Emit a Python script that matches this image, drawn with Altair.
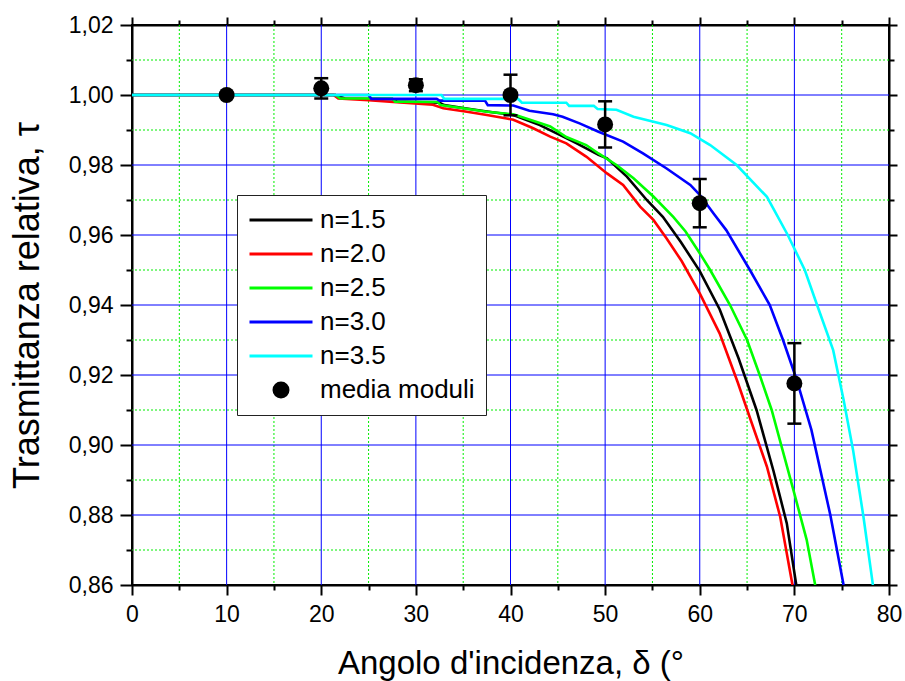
import altair as alt
import pandas as pd

# ---- theoretical curves: relative transmittance vs incidence angle ----
ang_15 = [0, 21.5, 22.5, 27.5, 28, 32.5, 33, 35, 37.5, 40.3, 43.1, 45.2, 47, 49.3, 50.2,
          52.3, 54.4, 56.1, 58, 60, 62.1, 64.1, 66, 67.8, 69.2, 70.2]
tau_15 = [1.000, 1.000, 0.9990, 0.9988, 0.9981, 0.9978, 0.9971, 0.9963, 0.9953, 0.9943, 0.9914,
          0.9886, 0.9862, 0.9829, 0.9819, 0.9767, 0.9700, 0.9652, 0.9580, 0.9497, 0.9388,
          0.9248, 0.9100, 0.8925, 0.8776, 0.8600]

ang_20 = [0, 21.3, 21.8, 25, 27.6, 31.8, 32.9, 35.4, 37.5, 39.6, 40.3, 42.4, 44.2, 45.9, 48,
          50.2, 51.9, 53.7, 55.1, 56.5, 58.1, 60, 62.1, 64, 65.4, 67.1, 68.5, 69.8]
tau_20 = [1.000, 1.000, 0.9990, 0.9985, 0.9980, 0.9972, 0.9962, 0.9952, 0.9943, 0.9933, 0.9929,
          0.9905, 0.9881, 0.9862, 0.9824, 0.9776, 0.9743, 0.9681, 0.9643, 0.9590, 0.9525,
          0.9433, 0.9319, 0.9180, 0.9070, 0.8938, 0.8795, 0.8600]

ang_25 = [0, 21.5, 22, 27.5, 27.8, 32.3, 32.6, 35, 37.5, 40.3, 43.1, 44.2, 45.9, 48, 49.3, 51.2,
          53, 55.1, 57.2, 58.5, 60, 61.1, 63.2, 65, 66.4, 67.6, 69.9, 71.3, 72.2]
tau_25 = [1.000, 1.000, 0.9990, 0.9990, 0.9981, 0.9980, 0.9971, 0.9962, 0.9952, 0.9945, 0.9920,
          0.9910, 0.9880, 0.9857, 0.9833, 0.9800, 0.9762, 0.9710, 0.9652, 0.9610, 0.9548,
          0.9500, 0.9400, 0.9300, 0.9195, 0.9100, 0.8871, 0.8729, 0.8600]

ang_30 = [0, 25, 25.3, 32.2, 32.5, 37.3, 37.6, 40.3, 42, 44.5, 45.5, 47.3, 49.3, 51.9, 54, 56.5,
          59, 60, 61.5, 62.8, 65.3, 67.4, 68.8, 70.2, 71.8, 73.8, 75.2]
tau_30 = [1.000, 1.000, 0.9989, 0.9989, 0.9984, 0.9984, 0.9971, 0.9970, 0.9955, 0.9945, 0.9938,
          0.9919, 0.9895, 0.9867, 0.9833, 0.9790, 0.9743, 0.9715, 0.9660, 0.9614, 0.9500,
          0.9400, 0.9300, 0.9190, 0.9043, 0.8800, 0.8600]

ang_35 = [0, 32.7, 33, 40.8, 41.2, 45.9, 46.2, 48.8, 49.2, 51.2, 53, 56.5, 59, 61.1, 63.9, 67.1,
          69.3, 71.1, 72.4, 74.1, 75.2, 76.2, 77.3, 78.3]
tau_35 = [1.000, 1.000, 0.9989, 0.9989, 0.9978, 0.9978, 0.9969, 0.9969, 0.9960, 0.9958, 0.9938,
          0.9914, 0.9891, 0.9857, 0.9800, 0.9709, 0.9600, 0.9500, 0.9400, 0.9271, 0.9129,
          0.8986, 0.8795, 0.8600]

# ---- measured module averages with error bars ----
meas_ang = [10, 20, 30, 40, 50, 60, 70]
meas_tau = [1.0000, 1.0019, 1.0028, 1.0000, 0.9916, 0.9691, 0.9176]
meas_err = [0.0000, 0.0029, 0.0017, 0.0058, 0.0066, 0.0069, 0.0115]

# ---- legend / series styling ----
series_names = ["n=1.5", "n=2.0", "n=2.5", "n=3.0", "n=3.5", "media moduli"]
series_colors = ["#000000", "#ff0000", "#00ff00", "#0000ff", "#00ffff", "#000000"]
LINE_PATH = "M-1,0L1,0"
DOT_PATH = "M-0.222,0A0.222,0.222,0,1,0,0.222,0A0.222,0.222,0,1,0,-0.222,0Z"
series_shapes = [LINE_PATH] * 5 + [DOT_PATH]

# ---- axis ticks and grid positions ----
x_ticks = [0, 5, 10, 15, 20, 25, 30, 35, 40, 45, 50, 55, 60, 65, 70, 75, 80]
y_ticks = [0.86, 0.87, 0.88, 0.89, 0.90, 0.91, 0.92, 0.93, 0.94, 0.95, 0.96, 0.97, 0.98,
           0.99, 1.00, 1.01, 1.02]
x_major_grid = [10, 20, 30, 40, 50, 60, 70]
x_minor_grid = [5, 15, 25, 35, 45, 55, 65, 75]
y_major_grid = [0.88, 0.90, 0.92, 0.94, 0.96, 0.98, 1.00]
y_minor_grid = [0.87, 0.89, 0.91, 0.93, 0.95, 0.97, 0.99, 1.01]

FONT = "Liberation Sans"

curves = pd.concat([
    pd.DataFrame({"ang": a, "tau": t, "series": s, "order": i})
    for i, (a, t, s) in enumerate([
        (ang_15, tau_15, "n=1.5"), (ang_20, tau_20, "n=2.0"), (ang_25, tau_25, "n=2.5"),
        (ang_30, tau_30, "n=3.0"), (ang_35, tau_35, "n=3.5")])
], ignore_index=True)

meas = pd.DataFrame({"ang": meas_ang, "tau": meas_tau, "err": meas_err})
meas["lo"] = meas["tau"] - meas["err"]
meas["hi"] = meas["tau"] + meas["err"]

xs = alt.Scale(domain=[0, 80], nice=False, zero=False)
ys = alt.Scale(domain=[0.86, 1.02], nice=False, zero=False)

x_major_test = "datum.value % 10 == 0"
y_major_test = "round(datum.value * 100) % 2 == 0"

common_axis = dict(
    domainColor="black", domainWidth=2, tickColor="black", tickWidth=2,
    grid=False, labelFont=FONT, labelFontSize=23, labelColor="black",
    titleFont=FONT, titleColor="black", titleFontWeight="normal",
)

x_axis_bottom = alt.Axis(
    values=x_ticks, orient="bottom", format="d",
    tickSize={"condition": {"test": x_major_test, "value": 10}, "value": 5},
    labelExpr="datum.value % 10 == 0 ? datum.label : ''",
    labelPadding=8, labelFlush=False,
    title="Angolo d'incidenza, δ (°", titleFontSize=33,
    titleBaseline="alphabetic", titleY=88,
    **common_axis,
)
y_axis_left = alt.Axis(
    values=y_ticks, orient="left",
    tickSize={"condition": {"test": y_major_test, "value": 12}, "value": 6},
    labelExpr=y_major_test + " ? replace(format(datum.value, '.2f'), '.', ',') : ''",
    labelPadding=7, labelFlush=False,
    title="Trasmittanza relativa, τ", titleFontSize=36,
    titleBaseline="alphabetic", titleX=-94, titleAngle=-90,
    **common_axis,
)
x_axis_top = alt.Axis(
    values=x_ticks, orient="top", labels=False, title=None,
    tickSize={"condition": {"test": x_major_test, "value": 8}, "value": 5},
    **common_axis,
)
y_axis_right = alt.Axis(
    values=y_ticks, orient="right", labels=False, title=None,
    tickSize={"condition": {"test": y_major_test, "value": 8}, "value": 5},
    **common_axis,
)

# grid lines
vgrid_minor = alt.Chart(pd.DataFrame({"ang": x_minor_grid})).mark_rule(
    color="#00ee00", strokeWidth=1, strokeDash=[2, 2]
).encode(x=alt.X("ang:Q", scale=xs, axis=x_axis_bottom))
hgrid_minor = alt.Chart(pd.DataFrame({"tau": y_minor_grid})).mark_rule(
    color="#00ee00", strokeWidth=1, strokeDash=[2, 2]
).encode(y=alt.Y("tau:Q", scale=ys, axis=y_axis_left))
vgrid_major = alt.Chart(pd.DataFrame({"ang": x_major_grid})).mark_rule(
    color="#0000ff", strokeWidth=1
).encode(x=alt.X("ang:Q", scale=xs, axis=None))
hgrid_major = alt.Chart(pd.DataFrame({"tau": y_major_grid})).mark_rule(
    color="#0000ff", strokeWidth=1
).encode(y=alt.Y("tau:Q", scale=ys, axis=None))

lines = alt.Chart(curves).mark_line(strokeWidth=2.6, clip=True).encode(
    x=alt.X("ang:Q", scale=xs, axis=None),
    y=alt.Y("tau:Q", scale=ys, axis=None),
    color=alt.Color("series:N", scale=alt.Scale(domain=series_names[:5], range=series_colors[:5]),
                    legend=None),
    detail="series:N",
    order="order:Q",
)

bars = alt.Chart(meas).mark_rule(color="black", strokeWidth=2.5).encode(
    x=alt.X("ang:Q", scale=xs, axis=None),
    y=alt.Y("lo:Q", scale=ys, axis=None),
    y2="hi:Q",
)
caps_lo = alt.Chart(meas).mark_tick(color="black", orient="horizontal", size=14, thickness=2.5,
                                    opacity=1).encode(
    x=alt.X("ang:Q", scale=xs, axis=None),
    y=alt.Y("lo:Q", scale=ys, axis=None),
)
caps_hi = alt.Chart(meas).mark_tick(color="black", orient="horizontal", size=14, thickness=2.5,
                                    opacity=1).encode(
    x=alt.X("ang:Q", scale=xs, axis=None),
    y=alt.Y("hi:Q", scale=ys, axis=None),
)
points = alt.Chart(meas).mark_point(filled=True, shape="circle", size=256, color="black", opacity=1).encode(
    x=alt.X("ang:Q", scale=xs, axis=x_axis_top),
    y=alt.Y("tau:Q", scale=ys, axis=y_axis_right),
)

# legend carrier: one invisible symbol per series, legend symbols drawn fully opaque
leg = alt.Legend(
    orient="none", legendX=105, legendY=170, title=None,
    clipHeight=28, rowPadding=6, padding=11, labelOffset=6,
    labelFont=FONT, labelFontSize=26, labelColor="black", labelLimit=400,
    strokeColor="#222222", fillColor="white",
    symbolSize=3969, symbolStrokeWidth=3, symbolOpacity=1,
)
legend_df = pd.DataFrame({"series": series_names})
legend_layer = alt.Chart(legend_df).mark_point(filled=True, opacity=0).encode(
    fill=alt.Fill("series:N", scale=alt.Scale(domain=series_names, range=series_colors), legend=leg),
    stroke=alt.Stroke("series:N", scale=alt.Scale(domain=series_names, range=series_colors), legend=leg),
    shape=alt.Shape("series:N", scale=alt.Scale(domain=series_names, range=series_shapes), legend=leg),
)

chart = alt.layer(
    vgrid_minor, hgrid_minor, vgrid_major, hgrid_major,
    lines, bars, caps_lo, caps_hi, points, legend_layer,
).resolve_axis(
    x="independent", y="independent"
).properties(
    width=757, height=560,
    padding={"left": 132, "top": 25, "right": 16, "bottom": 96},
    autosize=alt.AutoSizeParams(type="none"),
    background="white",
).configure_view(
    stroke="black", strokeWidth=2
)

chart.save("out.html", embed_options={"renderer": "svg", "actions": False})
